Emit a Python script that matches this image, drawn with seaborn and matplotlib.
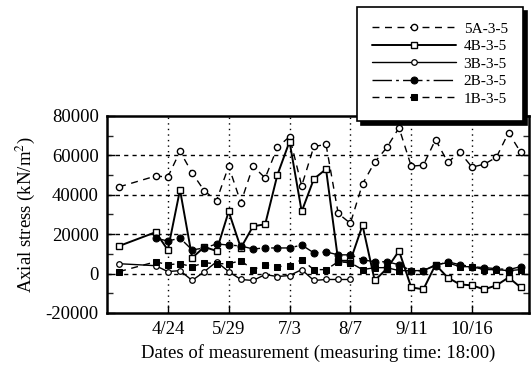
import numpy as np
import pandas as pd
import matplotlib
matplotlib.use("Agg")
import matplotlib.pyplot as plt
import seaborn as sns
from matplotlib.ticker import MultipleLocator, FixedLocator

# ---------------- data ----------------
year = 2001
dates = ["3/27", "4/17", "4/24", "5/1", "5/8", "5/15", "5/22", "5/29", "6/5", "6/12",
         "6/19", "6/26", "7/3", "7/10", "7/17", "7/24", "7/31", "8/7", "8/14", "8/21",
         "8/28", "9/4", "9/11", "9/18", "9/25", "10/2", "10/9", "10/16", "10/23", "10/30",
         "11/6", "11/13"]

s5A = [44000, 49500, 49000, 62000, 51000, 42000, 37000, 54500, 36000, 54500,
       48500, 64000, 69500, 44500, 64500, 65500, 30500, 25500, 45500, 56500,
       64000, 74000, 54500, 55000, 68000, 56500, 61500, 54000, 55500, 59000,
       71500, 61500]
s4B = [14000, 21000, 12000, 42500, 8000, 13500, 11500, 31500, 13000, 24000,
       25000, 50000, 67000, 31500, 48000, 53000, 6500, 6500, 24500, -3500,
       2500, 11500, -7000, -8000, 4500, -2000, -5500, -6000, -8000, -6000,
       -2000, -7000]
s3B = [5000, 4000, 1000, 1500, -3500, 1000, 6000, 1000, -3000, -3500,
       -500, -1500, -1000, 2000, -3500, -3000, -3000, -3000]          # 3/27 .. 8/7
s2B = [18000, 16500, 18000, 12000, 13000, 15000, 14500, 14000, 12500, 13000,
       13000, 13000, 14500, 10500, 11000, 9500, 9500, 7000, 6000, 6000,
       4500, 1500, 1500, 4000, 6000, 4500, 3500, 3000, 2500, 2000, 3500]  # 4/17 ..
s1B = [1000, 6000, 4500, 5000, 3500, 5500, 5000, 5000, 6500, 2000,
       4500, 3500, 4000, 7000, 2000, 2000, 6000, 5500, 2000, 3000,
       3000, 1500, 1500, 1500, 4500, 5500, 3500, 3500, 2000, 2000,
       1500, 2000]

tick_labels = ["4/24", "5/29", "7/3", "8/7", "9/11", "10/16"]
y_ticks = [-20000, 0, 20000, 40000, 60000, 80000]
series_names = ["5A-3-5", "4B-3-5", "3B-3-5", "2B-3-5", "1B-3-5"]

def to_dt(lst):
    return pd.to_datetime([f"{year}/{d}" for d in lst], format="%Y/%m/%d")

x_all = to_dt(dates)

# ---------------- style ----------------
sns.set_theme(style="white")
plt.rcParams['font.family'] = ['Liberation Serif', 'DejaVu Serif']
plt.rcParams['mathtext.fontset'] = 'stix'

fig = plt.figure(figsize=(5.31, 3.68), dpi=100)
ax = fig.add_axes([0.2015, 0.1495, 0.7955, 0.5355])

k = dict(color="black", ax=ax, sort=False)
sns.lineplot(x=x_all, y=s5A, linestyle=(0, (5, 4)), lw=1.0, marker="o", ms=4.5,
             mfc="white", mec="black", mew=1.0, label=series_names[0], **k)
sns.lineplot(x=x_all, y=s4B, linestyle="-", lw=1.4, marker="s", ms=5,
             mfc="white", mec="black", mew=1.0, label=series_names[1], **k)
sns.lineplot(x=x_all[:len(s3B)], y=s3B, linestyle="-", lw=1.0, marker="o", ms=4,
             mfc="white", mec="black", mew=0.9, label=series_names[2], **k)
sns.lineplot(x=x_all[1:1 + len(s2B)], y=s2B, linestyle=(0, (14, 3, 2, 3)), lw=1.0,
             marker="o", ms=5, mfc="black", mec="black", label=series_names[3], **k)
sns.lineplot(x=x_all, y=s1B, linestyle=(0, (5, 4)), lw=1.0, marker="s", ms=5,
             mfc="black", mec="black", label=series_names[4], **k)

ax.get_legend().remove()

# axes limits and ticks
ax.set_xlim(pd.Timestamp(f"{year}-03-20"), pd.Timestamp(f"{year}-11-18"))
ax.set_ylim(-20000, 80000)
ax.set_xticks(to_dt(tick_labels))
ax.set_xticklabels(tick_labels)
ax.set_yticks(y_ticks)
ax.set_yticklabels([str(v) for v in y_ticks])
ax.yaxis.set_minor_locator(MultipleLocator(10000))
ax.tick_params(axis="both", which="major", direction="in", length=6, width=1.0,
               labelsize=13.5, colors="black", left=True, bottom=True, right=True,
               pad=6)
ax.tick_params(axis="y", which="minor", direction="in", length=4, width=1.0,
               left=True, right=True)

for sp in ax.spines.values():
    sp.set_visible(True)
    sp.set_color("black")
    sp.set_linewidth(1.8)

# grid
for v in [0, 20000, 40000, 60000]:
    ax.axhline(v, color="black", lw=1.0, linestyle=(0, (3, 3)), zorder=0.5)
for t in to_dt(tick_labels):
    ax.axvline(t, color="black", lw=1.0, linestyle=(0, (1, 3)), zorder=0.5)

ax.set_xlabel("Dates of measurement (measuring time: 18:00)", fontsize=13.5,
              color="black", labelpad=4)
ax.set_ylabel("Axial stress (kN/m$^2$)", fontsize=13.5, color="black", labelpad=6)

handles, labels = ax.get_legend_handles_labels()
leg = fig.legend(handles, labels, loc="upper right", bbox_to_anchor=(0.985, 0.982),
                 fontsize=11, handlelength=5.5, handletextpad=0.5, labelspacing=0.25,
                 borderpad=1.0, borderaxespad=0, frameon=True, fancybox=False,
                 shadow={"color": "black", "alpha": 1.0, "ox": 3, "oy": -3},
                 framealpha=1, edgecolor="black", numpoints=1)
leg.get_frame().set_linewidth(1.2)
for t in leg.get_texts():
    t.set_color("black")

fig.savefig("out.png", dpi=100)
